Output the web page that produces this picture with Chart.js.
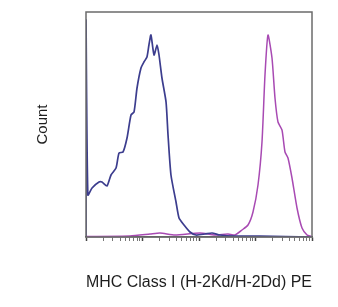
<!DOCTYPE html>
<html lang="en">
<head>
  <meta charset="UTF-8">
  <title>MHC Class I histogram</title>
  <script src="https://cdn.jsdelivr.net/npm/chart.js"></script>
  <style>
    html, body { margin: 0; padding: 0; background: #fff; }
    #wrap { width: 338px; height: 307px; }
  </style>
</head>
<body>
<div id="wrap"><canvas id="histo"></canvas></div>
<script>
// fluorescence channel (log) and event counts
const isoX = [1, 1, 1.08, 1.28, 1.70, 1.92, 2.35, 2.77, 3.40, 3.84, 4.52, 5.32, 6.26, 7.08, 8.0, 9.4, 10.6, 12.0, 13.0, 14.1, 16.0, 18.1, 19.6, 22.1, 26.1, 28.3, 31.9, 39.2, 44.3, 54.3, 69.3, 88.5, 128, 170, 235, 434, 1200, 10000];
const isoY = [0, 217, 42, 49, 55, 55, 51, 62, 69, 84, 85, 99, 122, 125, 149, 169, 175, 180, 192, 202, 182, 192, 182, 159, 135, 102, 62, 35, 19, 12, 5, 2, 3, 4, 2, 1, 1, 0];

const mhcX = [1, 6.0, 13.6, 20.4, 37.6, 104, 192, 326, 434, 577, 737, 903, 1107, 1303, 1472, 1663, 1959, 2213, 2500, 2944, 3327, 3758, 4426, 5429, 6653, 8170, 9229, 10000];
const mhcY = [0.5, 1, 3, 4, 2, 4, 2, 3, 2, 7, 12, 25, 52, 95, 162, 202, 179, 139, 115, 107, 85, 79, 59, 29, 9, 2, 1, 0];

const decades = [1, 10, 100, 1000, 10000];
const xTitle = 'MHC Class I (H-2Kd/H-2Dd) PE';
const yTitle = 'Count';

const pts = (xs, ys) => xs.map((x, i) => ({ x, y: ys[i] }));

// major + minor log ticks
const logTicks = [];
decades.forEach((d, i) => {
  logTicks.push({ value: d, major: true });
  if (i < decades.length - 1) for (let m = 2; m <= 9; m++) logTicks.push({ value: d * m });
});

const frame = {
  id: 'frame',
  afterDatasetsDraw(chart) {
    const a = chart.chartArea, ctx = chart.ctx;
    ctx.save();
    ctx.strokeStyle = '#6b6b6b';
    ctx.lineWidth = 1.5;
    ctx.strokeRect(a.left, a.top, a.right - a.left, a.bottom - a.top);
    ctx.restore();
  }
};

new Chart(document.getElementById('histo'), {
  type: 'line',
  data: {
    datasets: [
      { data: pts(isoX, isoY), borderColor: '#3c3d8e', borderWidth: 1.7, pointRadius: 0, tension: 0.2, fill: false },
      { data: pts(mhcX, mhcY), borderColor: '#a84ab3', borderWidth: 1.5, pointRadius: 0, tension: 0.2, fill: false }
    ]
  },
  options: {
    responsive: true,
    maintainAspectRatio: false,
    animation: false,
    layout: { padding: { top: 12, right: 26, bottom: 0, left: 0 } },
    plugins: { legend: { display: false }, tooltip: { enabled: false } },
    scales: {
      x: {
        type: 'logarithmic',
        min: 1, max: 10000,
        afterBuildTicks: s => { s.ticks = logTicks.map(t => ({ ...t })); },
        afterFit: s => { s.height = 70; },
        ticks: { display: false },
        grid: {
          drawOnChartArea: false,
          tickLength: 4,
          tickColor: c => c.tick && c.tick.major ? '#444' : '#777',
          tickWidth: c => c.tick && c.tick.major ? 1.5 : 1
        },
        border: { color: '#555', width: 1.5 },
        title: {
          display: true, text: xTitle, color: '#1e1e1e',
          font: { family: 'Liberation Sans', size: 16 },
          padding: { top: 0, bottom: 15 }
        }
      },
      y: {
        min: 0, max: 225,
        afterFit: s => { s.width = 86; },
        ticks: { display: false },
        grid: { display: false },
        border: { display: false },
        title: {
          display: true, text: yTitle, color: '#1e1e1e',
          font: { family: 'Liberation Sans', size: 15 },
          padding: { top: 34, bottom: 0 }
        }
      }
    }
  },
  plugins: [frame]
});
</script>
</body>
</html>
